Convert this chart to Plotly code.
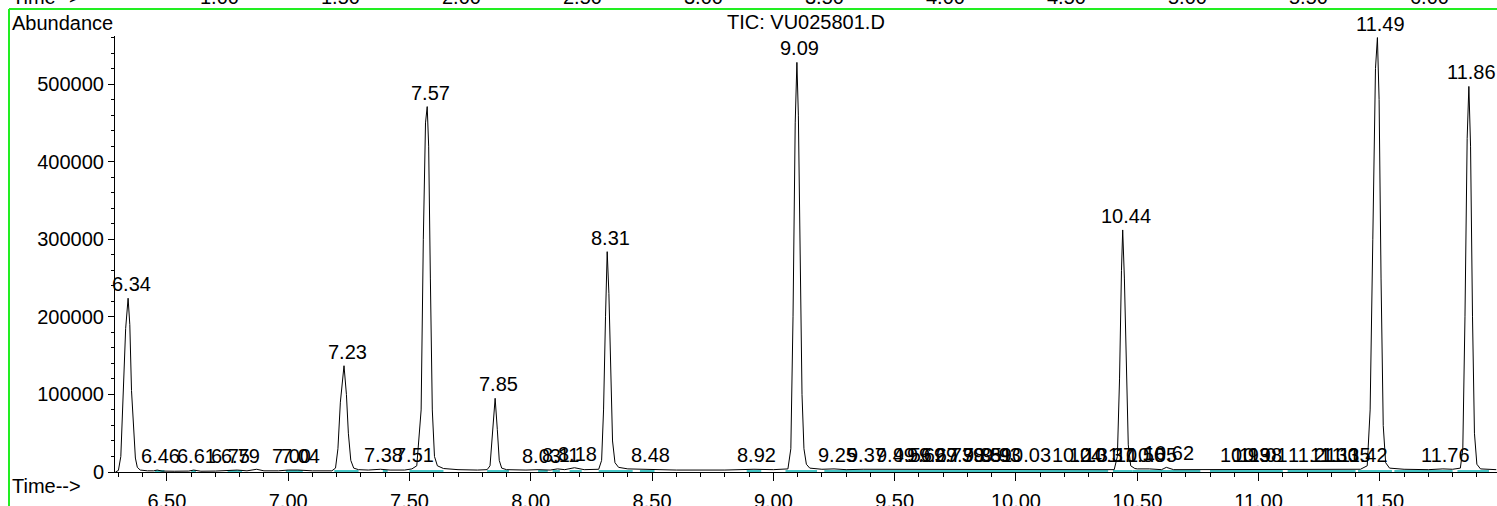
import plotly.graph_objects as go

# ---------------- data ----------------
time_min = [6.288, 6.300, 6.310, 6.320, 6.330, 6.340, 6.347, 6.354, 6.362, 6.370, 6.378, 6.390,
            6.420, 6.445, 6.460, 6.480, 6.530, 6.590, 6.610, 6.640, 6.700, 6.740, 6.750, 6.790,
            6.830, 6.870, 6.900, 6.960, 7.000, 7.040, 7.100, 7.180, 7.195, 7.205, 7.215, 7.230,
            7.240, 7.248, 7.258, 7.270, 7.290, 7.330, 7.380, 7.420, 7.480, 7.510, 7.530, 7.548,
            7.557, 7.566, 7.573, 7.579, 7.586, 7.594, 7.603, 7.615, 7.640, 7.700, 7.780, 7.820,
            7.832, 7.840, 7.853, 7.862, 7.870, 7.880, 7.900, 7.980, 8.030, 8.080, 8.110, 8.140,
            8.180, 8.220, 8.280, 8.292, 8.300, 8.308, 8.315, 8.322, 8.329, 8.337, 8.347, 8.362,
            8.400, 8.480, 8.600, 8.800, 8.920, 9.000, 9.060, 9.072, 9.081, 9.090, 9.097, 9.103,
            9.110, 9.118, 9.126, 9.136, 9.150, 9.200, 9.250, 9.300, 9.370, 9.490, 9.560, 9.620,
            9.670, 9.730, 9.780, 9.850, 9.890, 9.930, 10.030, 10.150, 10.240, 10.310, 10.370,
            10.405, 10.418, 10.427, 10.435, 10.440, 10.447, 10.455, 10.463, 10.473, 10.490,
            10.500, 10.550, 10.600, 10.620, 10.650, 10.800, 10.930, 10.980, 11.010, 11.100,
            11.210, 11.300, 11.350, 11.420, 11.448, 11.460, 11.471, 11.482, 11.490, 11.497,
            11.505, 11.514, 11.524, 11.540, 11.600, 11.700, 11.760, 11.800, 11.832, 11.842,
            11.851, 11.860, 11.867, 11.874, 11.882, 11.890, 11.900, 11.915, 11.980]
abundance = [0, 2000, 20000, 95000, 185000, 224000, 190000, 105000, 55000, 18000, 6000, 2500,
             1500, 1500, 2500, 1200, 1000, 1200, 2500, 1000, 1200, 1500, 2500, 2500,
             1500, 3500, 1500, 1500, 2500, 2500, 1500, 1500, 5000, 30000, 90000, 137000,
             100000, 50000, 15000, 5000, 3000, 2500, 3500, 2500, 2500, 4000, 8000, 80000,
             300000, 450000, 471000, 420000, 250000, 80000, 20000, 8000, 4500, 3000, 2500, 3000,
             8000, 40000, 95000, 55000, 15000, 5000, 3000, 2500, 3000, 2500, 4000, 3000,
             5500, 3000, 3500, 15000, 80000, 200000, 284000, 230000, 120000, 40000, 12000, 6000,
             4000, 3500, 2500, 2500, 3500, 3000, 4000, 30000, 200000, 450000, 528000, 460000,
             280000, 100000, 30000, 10000, 5000, 3500, 4000, 3000, 3500, 3500, 3500, 3500,
             3500, 3500, 3500, 3000, 3500, 3500, 3500, 3000, 3500, 3500, 3500,
             3000, 20000, 120000, 260000, 312000, 250000, 120000, 35000, 8000, 4500,
             4000, 4000, 3000, 6000, 3000, 3000, 3500, 3500, 3500, 3000,
             3500, 3500, 3500, 3500, 8000, 80000, 300000, 520000, 560000, 480000,
             250000, 60000, 12000, 5000, 3500, 3000, 4000, 3500, 5000, 30000,
             200000, 430000, 497000, 420000, 200000, 50000, 10000, 4000, 3000]

label_text = ["6.34", "6.46", "6.61", "6.75", "6.79", "7.00", "7.04", "7.23", "7.38", "7.51",
              "7.57", "7.85", "8.03", "8.11", "8.18", "8.31", "8.48", "8.92", "9.09", "9.25",
              "9.37", "9.49", "9.56", "9.62", "9.67", "9.73", "9.78", "9.85", "9.89", "9.93",
              "10.03", "10.24", "10.31", "10.37", "10.44", "10.50", "10.55", "10.62", "10.93",
              "10.98", "11.01", "11.21", "11.30", "11.35", "11.42", "11.49", "11.76", "11.86"]
label_time = [6.340, 6.46, 6.61, 6.75, 6.79, 7.00, 7.04, 7.230, 7.38, 7.51,
              7.573, 7.853, 8.03, 8.11, 8.18, 8.315, 8.48, 8.92, 9.097, 9.25,
              9.37, 9.49, 9.56, 9.62, 9.67, 9.73, 9.78, 9.85, 9.89, 9.93,
              10.03, 10.24, 10.31, 10.37, 10.440, 10.50, 10.55, 10.62, 10.93,
              10.98, 11.01, 11.21, 11.30, 11.35, 11.42, 11.490, 11.76, 11.867]
label_abund = [224000, 2500, 2500, 2500, 2500, 2500, 2500, 137000, 3500, 4000,
               471000, 95000, 3000, 4000, 5500, 284000, 3500, 3500, 528000, 4000,
               3500, 3500, 3500, 3500, 3500, 3500, 3500, 3500, 3500, 3500,
               3500, 3500, 3500, 3500, 312000, 4000, 4000, 6000, 3500,
               3500, 3500, 3500, 3500, 3500, 3500, 560000, 4000, 497000]

base_start = [6.45, 6.60, 6.75, 6.99, 7.19, 7.39, 7.50, 7.82, 8.03, 8.09, 8.16, 8.28, 8.45,
              8.89, 9.05, 9.21, 10.40, 10.48, 10.80, 11.12, 11.41, 11.56, 11.82]
base_end = [6.49, 6.62, 6.81, 7.06, 7.29, 7.41, 7.64, 7.91, 8.07, 8.12, 8.21, 8.42, 8.51,
            8.95, 9.18, 10.38, 10.48, 10.76, 11.10, 11.40, 11.55, 11.80, 11.95]

y_ticks = [0, 100000, 200000, 300000, 400000, 500000]
x_ticks = [6.50, 7.00, 7.50, 8.00, 8.50, 9.00, 9.50, 10.00, 10.50, 11.00, 11.50]

top_tick_times = [1.00, 1.50, 2.00, 2.50, 3.00, 3.50, 4.00, 4.50, 5.00, 5.50, 6.00]

# ---------------- layout constants ----------------
W, H = 1497, 506
ML, MR, MT, MB = 115, 0, 36, 34
PW, PH = W - ML - MR, H - MT - MB
FONT = "Liberation Sans, Arial, sans-serif"
FS = 20


def px_x(p):
    return (p - ML) / PW


def px_y(p):
    return (H - MB - p) / PH


bx, by = [], []
for s, e in zip(base_start, base_end):
    bx += [s, e, None]
    by += [1300, 1300, None]

fig = go.Figure()
fig.add_trace(go.Scatter(x=bx, y=by, mode="lines", line=dict(color="#44c4c4", width=2),
                         hoverinfo="skip", showlegend=False))
fig.add_trace(go.Scatter(x=time_min, y=abundance, mode="lines",
                         line=dict(color="black", width=1), showlegend=False))

ann = []
for t, a, s in zip(label_time, label_abund, label_text):
    ann.append(dict(x=t, y=a, xref="x", yref="y", text=s, showarrow=False,
                    xanchor="center", yanchor="bottom", xshift=3, yshift=1,
                    font=dict(family=FONT, size=FS, color="black")))

ann.append(dict(x=px_x(10), y=px_y(23), xref="paper", yref="paper", text="Abundance",
                showarrow=False, xanchor="left", yanchor="middle",
                font=dict(family=FONT, size=FS, color="black")))
ann.append(dict(x=0.5, y=px_y(22), xref="paper", yref="paper", text="TIC: VU025801.D",
                showarrow=False, xanchor="center", yanchor="middle",
                font=dict(family=FONT, size=FS, color="black")))
ann.append(dict(x=px_x(10), y=px_y(486), xref="paper", yref="paper", text="Time-->",
                showarrow=False, xanchor="left", yanchor="middle",
                font=dict(family=FONT, size=FS, color="black")))
ann.append(dict(x=px_x(10), y=px_y(-3), xref="paper", yref="paper", text="Time-->",
                showarrow=False, xanchor="left", yanchor="middle",
                font=dict(family=FONT, size=FS, color="black")))
for t in top_tick_times:
    ann.append(dict(x=t, y=px_y(-3), xref="x2", yref="paper", text=f"{t:.2f}",
                    showarrow=False, xanchor="center", yanchor="middle",
                    font=dict(family=FONT, size=FS, color="black")))

shapes = [
    dict(type="line", xref="paper", yref="paper", x0=px_x(9), x1=px_x(W + 5),
         y0=px_y(9), y1=px_y(9), line=dict(color="#22ee22", width=2)),
    dict(type="line", xref="paper", yref="paper", x0=px_x(9), x1=px_x(9),
         y0=px_y(9), y1=px_y(H + 5), line=dict(color="#22ee22", width=2)),
]

fig.update_layout(
    width=W, height=H,
    margin=dict(l=ML, r=MR, t=MT, b=MB, autoexpand=False),
    paper_bgcolor="white", plot_bgcolor="white",
    font=dict(family=FONT, size=FS, color="black"),
    showlegend=False,
    annotations=ann,
    shapes=shapes,
    xaxis=dict(range=[6.286, 11.983], tickvals=x_ticks, ticktext=[f"{v:.2f}" for v in x_ticks],
               ticks="outside", ticklen=8, tickcolor="black", tickwidth=1,
               ticklabelstandoff=3,
               minor=dict(dtick=0.1, tick0=6.0, ticks="outside", ticklen=4, tickcolor="black"),
               showline=True, linecolor="black", linewidth=1, showgrid=False, zeroline=False,
               tickfont=dict(family=FONT, size=FS, color="black"), automargin=False),
    xaxis2=dict(range=[0.5702, 6.281], overlaying="x", visible=False, showgrid=False),
    yaxis=dict(range=[0, 562000], tickvals=y_ticks, ticktext=[str(v) for v in y_ticks],
               ticks="outside", ticklen=6, tickcolor="black", tickwidth=1,
               minor=dict(dtick=20000, ticks="outside", ticklen=3, tickcolor="black"),
               showline=True, linecolor="black", linewidth=1, showgrid=False, zeroline=False,
               tickfont=dict(family=FONT, size=FS, color="black"), automargin=False),
)
fig.add_trace(go.Scatter(x=[1, 6], y=[None, None], xaxis="x2", showlegend=False, hoverinfo="skip"))

fig.write_html("out.html", config={"displayModeBar": False},
               post_script="document.body.style.margin='0px';document.body.style.overflow='hidden';")
